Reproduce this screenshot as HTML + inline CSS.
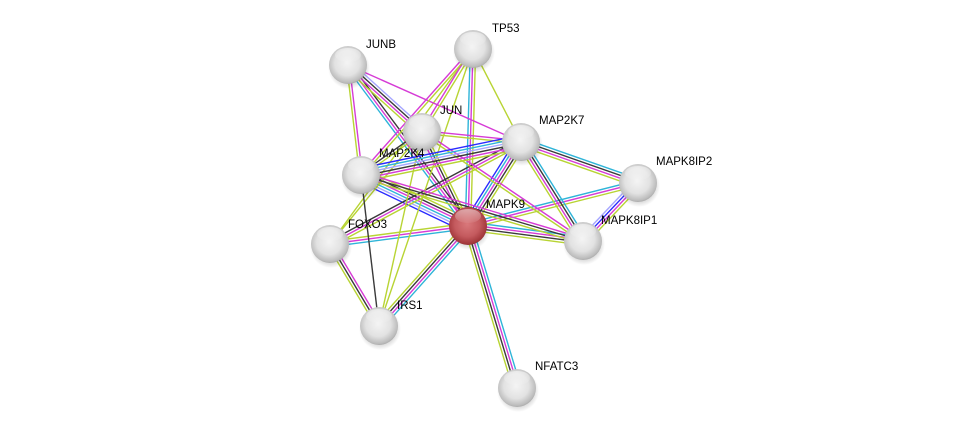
<!DOCTYPE html>
<html><head><meta charset="utf-8"><style>
html,body{margin:0;padding:0;background:#fff;}
svg{display:block;font-family:"Liberation Sans",Arial,sans-serif;}
</style></head><body>
<svg id="s" width="975" height="433" viewBox="0 0 975 433" xmlns="http://www.w3.org/2000/svg">
<defs>
<radialGradient id="g" cx="48%" cy="45%" r="60%">
<stop offset="0" stop-color="#f4f4f4"/><stop offset="0.55" stop-color="#e2e2e2"/><stop offset="0.85" stop-color="#bcbcbc"/><stop offset="1" stop-color="#969696"/></radialGradient>
<radialGradient id="r" cx="48%" cy="45%" r="60%">
<stop offset="0" stop-color="#d9787b"/><stop offset="0.55" stop-color="#c45a5e"/><stop offset="0.85" stop-color="#a4393d"/><stop offset="1" stop-color="#7d2a2d"/></radialGradient>
<radialGradient id="sh" cx="50%" cy="50%" r="50%"><stop offset="0.6" stop-color="#000" stop-opacity="0.22"/><stop offset="1" stop-color="#000" stop-opacity="0"/></radialGradient>
<linearGradient id="hl" x1="0" y1="0" x2="0" y2="1"><stop offset="0" stop-color="#fff" stop-opacity="0.9"/><stop offset="1" stop-color="#fff" stop-opacity="0.1"/></linearGradient>
</defs>
<g id="edges"></g>
<g id="nodes"></g>
<g font-size="11.5" fill="#000">
<text x="366" y="48">JUNB</text>
<text x="492" y="32">TP53</text>
<text x="440" y="114">JUN</text>
<text x="539" y="124">MAP2K7</text>
<text x="379" y="157">MAP2K4</text>
<text x="656" y="165">MAPK8IP2</text>
<text x="486" y="208">MAPK9</text>
<text x="601" y="224">MAPK8IP1</text>
<text x="348" y="228">FOXO3</text>
<text x="397" y="309">IRS1</text>
<text x="535" y="370">NFATC3</text>
</g>
</svg>
<script>
var N={JUNB:[348,65],TP53:[473,49],JUN:[422,132],MAP2K7:[521,142],MAP2K4:[361,175],MAPK8IP2:[638,183],MAPK9:[468,226],MAPK8IP1:[583,241],FOXO3:[330,244],IRS1:[379,326],NFATC3:[517,388]};
var C={g:"#b8d433",m:"#d63bd6",k:"#3a3a3a",c:"#2eb4d8",b:"#2a2aff",l:"#a6a6ff"};
var E=[["MAPK9","NFATC3","cmkg"],["MAPK9","IRS1","cmkg"],["MAPK9","FOXO3","cmg"],["MAPK9","MAPK8IP1","cmkg"],["MAPK9","MAPK8IP2","cmg"],["MAPK9","MAP2K7","bcmkg"],["MAPK9","MAP2K4","blcmkg"],["MAPK9","JUN","mkg"],["MAPK9","TP53","cmg"],["MAPK9","JUNB","cmk"],["FOXO3","IRS1","mkg"],["FOXO3","MAP2K7","kmg"],["FOXO3","JUN","g"],["FOXO3","TP53","g"],["IRS1","MAP2K4","k"],["IRS1","JUN","g"],["IRS1","TP53","g"],["JUNB","MAP2K4","mg"],["JUNB","JUN","lkmg"],["JUNB","MAP2K7","m"],["TP53","JUN","gm"],["TP53","MAP2K4","gm"],["TP53","MAP2K7","g"],["JUN","MAP2K7","mg"],["JUN","MAPK8IP1","mg"],["JUN","MAP2K4","gk"],["MAP2K4","MAP2K7","bclkmg"],["MAP2K4","MAPK8IP1","mkg"],["MAP2K7","MAPK8IP2","ckmg"],["MAP2K7","MAPK8IP1","ckmg"],["MAPK8IP1","MAPK8IP2","lbmg"]];
var ns="http://www.w3.org/2000/svg",eg=document.getElementById("edges"),ng=document.getElementById("nodes");
E.forEach(function(e){var a=N[e[0]],b=N[e[1]],dx=b[0]-a[0],dy=b[1]-a[1],L=Math.hypot(dx,dy),px=-dy/L,py=dx/L,n=e[2].length;
for(var i=0;i<n;i++){var o=(i-(n-1)/2)*2.7,l=document.createElementNS(ns,"line");
l.setAttribute("x1",a[0]+px*o);l.setAttribute("y1",a[1]+py*o);l.setAttribute("x2",b[0]+px*o);l.setAttribute("y2",b[1]+py*o);
l.setAttribute("stroke",C[e[2][i]]);l.setAttribute("stroke-width","1.4");eg.appendChild(l);}});
for(var k in N){var p=N[k];var s=document.createElementNS(ns,"ellipse");s.setAttribute("cx",p[0]+1);s.setAttribute("cy",p[1]+3);s.setAttribute("rx",21);s.setAttribute("ry",21);s.setAttribute("fill","url(#sh)");ng.appendChild(s);
var c=document.createElementNS(ns,"circle");c.setAttribute("cx",p[0]);c.setAttribute("cy",p[1]);c.setAttribute("r",19);c.setAttribute("fill",k=="MAPK9"?"url(#r)":"url(#g)");ng.appendChild(c);
var h=document.createElementNS(ns,"ellipse");h.setAttribute("cx",p[0]);h.setAttribute("cy",p[1]-10);h.setAttribute("rx",13);h.setAttribute("ry",7);h.setAttribute("fill","url(#hl)");h.setAttribute("opacity","0.55");ng.appendChild(h);}
</script>
</body></html>
